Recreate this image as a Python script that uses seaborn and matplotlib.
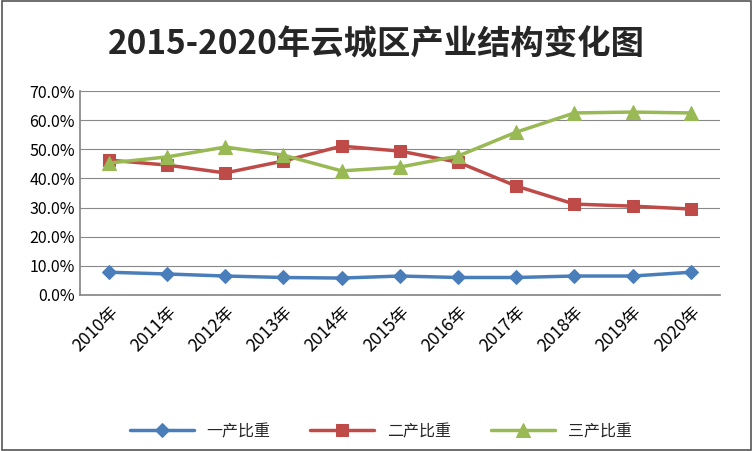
import matplotlib
matplotlib.use("Agg")
import matplotlib.pyplot as plt
import seaborn as sns
import pandas as pd
from matplotlib.ticker import PercentFormatter

years = ["2010年", "2011年", "2012年", "2013年", "2014年", "2015年",
         "2016年", "2017年", "2018年", "2019年", "2020年"]
primary = [7.8, 7.2, 6.5, 6.0, 5.8, 6.5, 6.0, 6.0, 6.5, 6.5, 7.8]
secondary = [46.3, 44.6, 41.9, 46.0, 51.1, 49.4, 45.6, 37.4, 31.2, 30.5, 29.5]
tertiary = [45.3, 47.4, 50.8, 48.0, 42.6, 43.9, 47.7, 55.9, 62.5, 62.8, 62.5]
names = ["一产比重", "二产比重", "三产比重"]

df = pd.DataFrame({"year": years, names[0]: primary, names[1]: secondary, names[2]: tertiary})
long = df.melt(id_vars="year", var_name="series", value_name="value")

sns.set_theme(style="white")
plt.rcParams['font.family'] = ['Noto Sans CJK SC', 'DejaVu Sans']

fig = plt.figure(figsize=(7.53, 4.51), dpi=100)
ax = fig.add_axes([0.106, 0.346, 0.85, 0.452])
colors = ["#4a7ebb", "#be4b48", "#98b954"]
markers = ["D", "s", "^"]
sizes = [7, 9, 10]
for name, c, m, s in zip(names, colors, markers, sizes):
    sub = long[long["series"] == name]
    sns.lineplot(data=sub, x="year", y="value", ax=ax, color=c, marker=m,
                 markersize=s, linewidth=2.5, markeredgecolor=c, label=name, sort=False)

ax.set_ylim(0, 70)
ax.set_yticks(range(0, 71, 10))
ax.yaxis.set_major_formatter(PercentFormatter(decimals=1))
ax.set_xlim(-0.5, len(years) - 0.5)
ax.grid(axis="y", color="#888888", linewidth=0.8)
ax.set_xlabel("")
ax.set_ylabel("")
for sp in ["top", "right"]:
    ax.spines[sp].set_visible(False)
for sp in ["left", "bottom"]:
    ax.spines[sp].set_color("#888888")
ax.tick_params(axis="y", labelsize=11.5, colors="black", length=0)
ax.tick_params(axis="x", labelsize=12.5, colors="black", length=0, pad=6)
plt.setp(ax.get_xticklabels(), rotation=45, ha="right", rotation_mode="anchor")

ax.legend(loc="center", bbox_to_anchor=(0.47, -0.67), ncol=3, frameon=False,
          fontsize=11.5, handlelength=4, columnspacing=2.5)
fig.text(0.5, 0.9, "2015-2020年云城区产业结构变化图", ha="center", va="center",
         fontsize=24, fontweight="bold")
border = plt.Rectangle((0.002, 0.002), 0.996, 0.996, transform=fig.transFigure,
                       fill=False, edgecolor="#555555", linewidth=1.2)
fig.patches.append(border)
fig.savefig("out.png", dpi=100)
